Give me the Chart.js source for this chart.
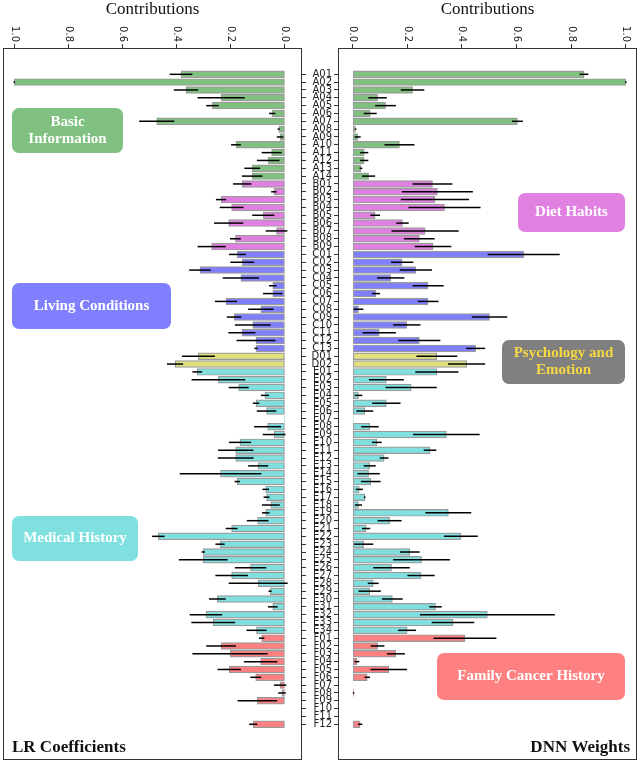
<!DOCTYPE html>
<html>
<head>
<meta charset="utf-8">
<script src="https://cdn.jsdelivr.net/npm/chart.js@4.4.1/dist/chart.umd.min.js"></script>
<style>
  html, body { margin: 0; padding: 0; background: #fff; }
  #wrap { position: relative; width: 640px; height: 762px; overflow: hidden; }
  canvas { position: absolute; top: 0; }
  #lrChart { left: 0; }
  #dnnChart { left: 300px; }
</style>
</head>
<body>
<div id="wrap">
  <canvas id="lrChart" width="310" height="762"></canvas>
  <canvas id="dnnChart" width="340" height="762"></canvas>
</div>
<script>
const categories = [
  'A01','A02','A03','A04','A05','A06','A07','A08','A09','A10','A11','A12','A13','A14',
  'B01','B02','B03','B04','B05','B06','B07','B08','B09',
  'C01','C02','C03','C04','C05','C06','C07','C08','C09','C10','C11','C12','C13',
  'D01','D02',
  'E01','E02','E03','E04','E05','E06','E07','E08','E09','E10','E11','E12','E13','E14','E15','E16','E17',
  'E18','E19','E20','E21','E22','E23','E24','E25','E26','E27','E28','E29','E30','E31','E32','E33','E34',
  'F01','F02','F03','F04','F05','F06','F07','F08','F09','F10','F11','F12',
];

const lrValues = [
  0.384, 1.0, 0.366, 0.236, 0.268, 0.047, 0.474, 0.023, 0.018, 0.181, 0.049, 0.062, 0.121, 0.121,
  0.158, 0.041, 0.236, 0.197, 0.080, 0.208, 0.031, 0.183, 0.271,
  0.176, 0.158, 0.314, 0.163, 0.045, 0.045, 0.218, 0.089, 0.188, 0.119, 0.159, 0.107, 0.107,
  0.320, 0.406,
  0.324, 0.246, 0.171, 0.074, 0.107, 0.068, 0.002, 0.064, 0.040, 0.166, 0.182, 0.182, 0.099, 0.238, 0.176, 0.071, 0.068,
  0.052, 0.071, 0.101, 0.197, 0.468, 0.240, 0.302, 0.302, 0.127, 0.197, 0.099, 0.055, 0.250, 0.045, 0.292, 0.265, 0.105,
  0.086, 0.236, 0.203, 0.090, 0.206, 0.108, 0.018, 0.011, 0.102, 0, 0, 0.117,
];
const lrErrors = [
  0.042, 0.003, 0.045, 0.087, 0.023, 0.012, 0.065, 0.004, 0.012, 0.018, 0.037, 0.042, 0.029, 0.038,
  0.034, 0.010, 0.019, 0.044, 0.041, 0.054, 0.040, 0.020, 0.052,
  0.031, 0.044, 0.040, 0.067, 0.014, 0.036, 0.041, 0.047, 0.027, 0.066, 0.050, 0.072, 0.006,
  0.061, 0.030,
  0.018, 0.099, 0.037, 0.015, 0.012, 0.036, 0, 0.050, 0.042, 0.041, 0.065, 0.066, 0.037, 0.151, 0.010, 0.012, 0.011,
  0.033, 0.014, 0.040, 0.022, 0.023, 0.017, 0.006, 0.090, 0.058, 0.060, 0.109, 0.006, 0.031, 0.018, 0.060, 0.081, 0.037,
  0.010, 0.055, 0.139, 0.062, 0.043, 0.020, 0.023, 0.014, 0.073, 0, 0, 0.015,
];

const dnnValues = [
  0.847, 1.0, 0.219, 0.091, 0.120, 0.064, 0.603, 0.010, 0.018, 0.171, 0.042, 0.042, 0.030, 0.058,
  0.292, 0.310, 0.301, 0.336, 0.082, 0.182, 0.265, 0.244, 0.294,
  0.626, 0.181, 0.231, 0.139, 0.276, 0.085, 0.276, 0.021, 0.501, 0.198, 0.097, 0.244, 0.450,
  0.308, 0.417,
  0.308, 0.123, 0.214, 0.021, 0.123, 0.044, 0.002, 0.063, 0.343, 0.088, 0.283, 0.115, 0.062, 0.058, 0.066, 0.024, 0.044,
  0.021, 0.350, 0.135, 0.049, 0.396, 0.040, 0.209, 0.252, 0.142, 0.250, 0.075, 0.062, 0.145, 0.303, 0.493, 0.367, 0.199,
  0.411, 0.091, 0.158, 0.015, 0.132, 0.053, 0, 0.003, 0, 0, 0, 0.027,
];
const dnnErrors = [
  0.016, 0.003, 0.043, 0.034, 0.038, 0.024, 0.020, 0.003, 0.011, 0.055, 0.015, 0.015, 0.005, 0.024,
  0.073, 0.130, 0.125, 0.132, 0.018, 0.023, 0.123, 0.056, 0.067,
  0.132, 0.041, 0.059, 0.050, 0.057, 0.015, 0.038, 0.018, 0.065, 0.050, 0.061, 0.077, 0.035,
  0.075, 0.068,
  0.079, 0.064, 0.094, 0.014, 0.052, 0.031, 0, 0.032, 0.122, 0.018, 0.023, 0.016, 0.022, 0.041, 0.036, 0.013, 0.003,
  0.013, 0.084, 0.044, 0.015, 0.062, 0.035, 0.036, 0.104, 0.067, 0.050, 0.020, 0.041, 0.038, 0.023, 0.247, 0.078, 0.033,
  0.115, 0.025, 0.033, 0.009, 0.067, 0.010, 0, 0.003, 0, 0, 0, 0.008,
];

const xTicks = [0, 0.2, 0.4, 0.6, 0.8, 1.0];

const groupColors = {
  A: '#80c080', B: '#e080e0', C: '#8080ff', D: '#e0e080', E: '#80e0e0', F: '#ff8080',
};
const barColors = categories.map(c => groupColors[c[0]]);

Chart.defaults.font.family = '"DejaVu Sans", sans-serif';

const roundRect = (ctx, x, y, w, h, r) => {
  ctx.beginPath();
  ctx.moveTo(x + r, y);
  ctx.arcTo(x + w, y, x + w, y + h, r);
  ctx.arcTo(x + w, y + h, x, y + h, r);
  ctx.arcTo(x, y + h, x, y, r);
  ctx.arcTo(x, y, x + w, y, r);
  ctx.closePath();
};

const errorBars = {
  id: 'errorBars',
  afterDatasetsDraw(chart) {
    const { ctx, scales: { x, y } } = chart;
    const ds = chart.data.datasets[0];
    ctx.save();
    ctx.strokeStyle = '#000';
    ctx.lineWidth = 1.5;
    ds.data.forEach((p, i) => {
      const e = ds.errors[i];
      if (!e) return;
      const py = y.getPixelForValue(p.y);
      ctx.beginPath();
      ctx.moveTo(x.getPixelForValue(p.x - e), py);
      ctx.lineTo(x.getPixelForValue(p.x + e), py);
      ctx.stroke();
    });
    ctx.restore();
  },
};

// frame, rotated top tick labels, group boxes, panel name
const decorations = (opts) => ({
  id: 'decorations',
  afterDraw(chart) {
    const { ctx, chartArea: a } = chart;
    const xs = chart.scales.x;
    ctx.save();
    ctx.strokeStyle = '#333';
    ctx.lineWidth = 1;
    ctx.strokeRect(Math.round(a.left) + 0.5, Math.round(a.top) + 0.5,
      Math.round(a.right - a.left) - 1, Math.round(a.bottom - a.top) - 1);

    ctx.font = '10px "DejaVu Sans"';
    ctx.fillStyle = '#222';
    ctx.textAlign = 'right';
    ctx.textBaseline = 'middle';
    xs.ticks.forEach(t => {
      ctx.save();
      ctx.translate(xs.getPixelForValue(t.value), xs.bottom - 6);
      ctx.rotate(Math.PI / 2);
      ctx.fillText(t.value.toFixed(1), 0, 0);
      ctx.restore();
    });

    opts.boxes.forEach(b => {
      ctx.fillStyle = b.fill;
      roundRect(ctx, b.x - opts.offset, b.y, b.w, b.h, 7);
      ctx.fill();
      ctx.fillStyle = b.textColor || '#fff';
      ctx.font = 'bold 15px "Liberation Serif"';
      ctx.textAlign = 'center';
      ctx.textBaseline = 'middle';
      const cx = b.x - opts.offset + b.w / 2;
      const lh = 17;
      const y0 = b.y + b.h / 2 - (b.lines.length - 1) * lh / 2;
      b.lines.forEach((t, k) => ctx.fillText(t, cx, y0 + k * lh));
    });

    ctx.fillStyle = '#111';
    ctx.font = 'bold 17px "Liberation Serif"';
    ctx.textAlign = opts.nameAlign;
    ctx.textBaseline = 'alphabetic';
    ctx.fillText(opts.name, opts.nameX - opts.offset, 752);
    ctx.restore();
  },
});

const createChart = (canvasId, values, errors, opts) => {
  const ctx = document.getElementById(canvasId).getContext('2d');
  return new Chart(ctx, {
    type: 'bar',
    data: {
      datasets: [{
        data: values.map((v, i) => ({ x: v, y: i })),
        errors,
        backgroundColor: barColors,
        borderColor: '#9a9a9a',
        borderWidth: 1.2,
        borderSkipped: false,
        barThickness: 6.8,
      }],
    },
    options: {
      indexAxis: 'y',
      responsive: false,
      animation: false,
      layout: { padding: opts.padding, autoPadding: false },
      plugins: {
        legend: { display: false },
        tooltip: { enabled: false },
      },
      scales: {
        x: {
          type: 'linear',
          position: 'top',
          reverse: opts.reverse,
          min: opts.xMin,
          max: opts.xMax,
          afterBuildTicks: (s) => { s.ticks = xTicks.map(v => ({ value: v })); },
          afterFit: (s) => { s.height = 48; s.paddingLeft = 0; s.paddingRight = 0; },
          grid: { drawOnChartArea: false, tickLength: 4, tickColor: '#333' },
          border: { display: false },
          ticks: { display: false },
          title: {
            display: true,
            text: 'Contributions',
            color: '#111',
            font: { family: '"Liberation Serif"', size: 17, lineHeight: 1 },
            padding: { top: 1, bottom: 0 },
          },
        },
        y: {
          type: 'linear',
          position: opts.yPos,
          reverse: true,
          offset: false,
          min: -3.36,
          max: 87.56,
          afterBuildTicks: (s) => { s.ticks = categories.map((c, i) => ({ value: i })); },
          afterFit: (s) => { s.width = opts.yWidth; s.paddingTop = 0; s.paddingBottom = 0; },
          grid: { offset: false, drawOnChartArea: false, tickLength: 4, tickColor: '#333' },
          border: { display: false },
          ticks: {
            display: opts.showLabels,
            autoSkip: false,
            padding: 2,
            color: '#222',
            font: { size: 10 },
            callback: (v) => categories[v],
          },
        },
      },
    },
    plugins: [errorBars, decorations(opts)],
  });
};

createChart('lrChart', lrValues, lrErrors, {
  reverse: true, xMin: -0.063, xMax: 1.042,
  yPos: 'right', yWidth: 8, showLabels: false,
  padding: { left: 3, right: 0, top: 0, bottom: 2 },
  offset: 0, name: 'LR Coefficients', nameX: 12, nameAlign: 'left',
  boxes: [
    { x: 12, y: 108, w: 111, h: 45, fill: '#80c080', lines: ['Basic', 'Information'] },
    { x: 12, y: 283, w: 159, h: 46, fill: '#8080ff', lines: ['Living Conditions'] },
    { x: 12, y: 516, w: 126, h: 45, fill: '#80e0e0', lines: ['Medical History'] },
  ],
});

createChart('dnnChart', dnnValues, dnnErrors, {
  reverse: false, xMin: -0.054, xMax: 1.041,
  yPos: 'left', yWidth: 38, showLabels: true,
  padding: { left: 0, right: 3, top: 0, bottom: 2 },
  offset: 300, name: 'DNN Weights', nameX: 630, nameAlign: 'right',
  boxes: [
    { x: 518, y: 193, w: 107, h: 39, fill: '#e080e0', lines: ['Diet Habits'] },
    { x: 502, y: 340, w: 123, h: 44, fill: '#808080', textColor: '#f5d742', lines: ['Psychology and', 'Emotion'] },
    { x: 437, y: 653, w: 188, h: 47, fill: '#ff8080', lines: ['Family Cancer History'] },
  ],
});
</script>
</body>
</html>
